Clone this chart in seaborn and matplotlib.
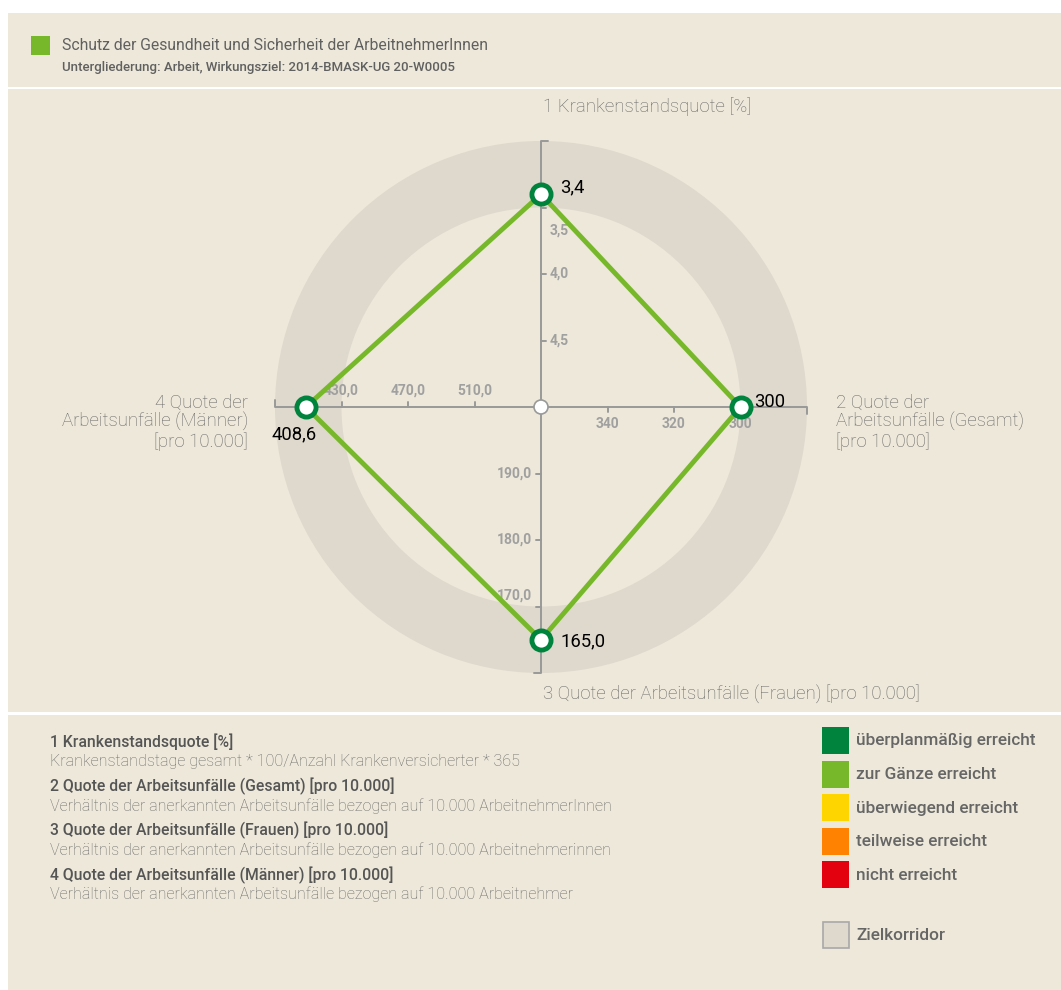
import numpy as np
import pandas as pd
import matplotlib
matplotlib.use("Agg")
import matplotlib.pyplot as plt
from matplotlib.patches import Rectangle, Wedge, Circle
import seaborn as sns

# ---- data ----
axis_names = ["1 Krankenstandsquote [%]",
              "2 Quote der\nArbeitsunfälle (Gesamt)\n[pro 10.000]",
              "3 Quote der Arbeitsunfälle (Frauen) [pro 10.000]",
              "4 Quote der\nArbeitsunfälle (Männer)\n[pro 10.000]"]
values = [3.4, 300, 165.0, 408.6]
value_labels = ["3,4", "300", "165,0", "408,6"]
axis_center = [5.0, 360, 200, 550]      # value at the centre of the chart
axis_outer = [3.0, 280, 160, 390]       # value at the outer end of each axis
tick_values = [[4.5, 4.0, 3.5], [340, 320, 300], [190, 180, 170], [510, 470, 430]]
tick_labels = [["4,5", "4,0", "3,5"], ["340", "320", "300"],
               ["190,0", "180,0", "170,0"], ["510,0", "470,0", "430,0"]]
corridor = (0.75, 1.0)                  # target corridor, as share of axis length

footnotes = [
    ("1 Krankenstandsquote [%]",
     "Krankenstandstage gesamt * 100/Anzahl Krankenversicherter * 365"),
    ("2 Quote der Arbeitsunfälle (Gesamt) [pro 10.000]",
     "Verhältnis der anerkannten Arbeitsunfälle bezogen auf 10.000 ArbeitnehmerInnen"),
    ("3 Quote der Arbeitsunfälle (Frauen) [pro 10.000]",
     "Verhältnis der anerkannten Arbeitsunfälle bezogen auf 10.000 Arbeitnehmerinnen"),
    ("4 Quote der Arbeitsunfälle (Männer) [pro 10.000]",
     "Verhältnis der anerkannten Arbeitsunfälle bezogen auf 10.000 Arbeitnehmer"),
]
legend_labels = ["überplanmäßig erreicht", "zur Gänze erreicht", "überwiegend erreicht",
                 "teilweise erreicht", "nicht erreicht"]
legend_colors = ["#00843D", "#76B82A", "#FFD500", "#FF8200", "#E3000F"]

# ---- style ----
sns.set_style("white")
plt.rcParams["font.family"] = ["Roboto", "DejaVu Sans"]

W, H = 1061, 990
BG = "#EDE8DA"
RING = "#DFD9CD"
GREEN = "#76B82A"
DARK = "#00843D"
AXIS = "#999999"
TICKTXT = "#A0A0A0"
TITLE = "#666666"


def fx(x):
    return x / W


def fy(y):
    return 1 - y / H


fig = plt.figure(figsize=(W / 100, H / 100), dpi=100, facecolor="white")

# background panels
for top, bottom in [(13, 87), (89, 712), (715, 990)]:
    fig.patches.append(Rectangle((fx(8), fy(bottom)), fx(W - 8), (bottom - top) / H,
                                 transform=fig.transFigure, facecolor=BG,
                                 edgecolor="none", zorder=-2))

# header
fig.patches.append(Rectangle((fx(31), fy(55)), 19 / W, 19 / H, transform=fig.transFigure,
                             facecolor=GREEN, edgecolor="none", zorder=1))
fig.text(fx(62), fy(46), "Schutz der Gesundheit und Sicherheit der ArbeitnehmerInnen",
         fontsize=11.3, color="#606060", va="center", ha="left")
fig.text(fx(62), fy(68), "Untergliederung: Arbeit, Wirkungsziel: 2014-BMASK-UG 20-W0005",
         fontsize=9.5, color="#606060", va="center", ha="left", fontweight="medium")

# ---- radar axes ----
R = 266.0
cx, cy = 541, 407
ax = fig.add_axes([fx(8), fy(712), fx(W - 8), (712 - 89) / H])
ax.set_zorder(2)
ax.set_xlim((8 - cx) / R, (W - cx) / R)
ax.set_ylim((cy - 712) / R, (cy - 89) / R)
ax.axis("off")
ax.patch.set_alpha(0)

dirs = np.array([[0, 1], [1, 0], [0, -1], [-1, 0]], dtype=float)
tick_dir = np.array([[d[1], -d[0]] for d in dirs])   # clockwise side


def norm(i, v):
    return (v - axis_center[i]) / (axis_outer[i] - axis_center[i])


ax.add_patch(Wedge((0, 0), corridor[1], 0, 360, width=corridor[1] - corridor[0],
                   facecolor=RING, edgecolor="none", zorder=1))

p = 1 / R  # one pixel in data units
label_offsets = {(0, 2): (0, -23), (2, 2): (0, 11)}
for i in range(4):
    d, t = dirs[i], tick_dir[i]
    ax.plot([0, d[0]], [0, d[1]], color=AXIS, lw=1.4, zorder=2, solid_capstyle="butt")
    # outer end tick
    ax.plot([d[0], d[0] + t[0] * 7 * p], [d[1], d[1] + t[1] * 7 * p],
            color=AXIS, lw=1.4, zorder=2)
    for j, tv in enumerate(tick_values[i]):
        r = norm(i, tv)
        bx, by = d * r
        ax.plot([bx, bx + t[0] * 5 * p], [by, by + t[1] * 5 * p], color=AXIS, lw=1.4, zorder=2)
        ox, oy = label_offsets.get((i, j), (0, 0))
        if i == 0:
            pos, ha, va = (bx + 9 * p, by), "left", "center"
        elif i == 1:
            pos, ha, va = (bx, by - 17 * p), "center", "center"
        elif i == 2:
            pos, ha, va = (bx - 9 * p, by), "right", "center"
        else:
            pos, ha, va = (bx, by + 16 * p), "center", "center"
        ax.text(pos[0] + ox * p, pos[1] + oy * p, tick_labels[i][j], ha=ha, va=va,
                fontsize=10, fontweight="bold", color=TICKTXT, zorder=3)

# axis titles
tkw = dict(fontsize=13.4, color=TITLE, fontweight="light", va="center")
ax.text(2 * p, (cy - 107) / R, axis_names[0], ha="left", **tkw)
ax.text((836 - cx) / R, (cy - 422) / R, axis_names[1], ha="left", linespacing=1.05, **tkw)
ax.text(2 * p, (cy - 694) / R, axis_names[2], ha="left", **tkw)
ax.text((248 - cx) / R, (cy - 422) / R, axis_names[3], ha="right", linespacing=1.05,
        multialignment="right", **tkw)

# centre circle
ax.add_patch(Circle((0, 0), 7 * p, facecolor="white", edgecolor=AXIS, lw=1.2, zorder=4))

# polygon
rs = [norm(i, v) for i, v in enumerate(values)]
pts = pd.DataFrame({"x": [dirs[i][0] * rs[i] for i in range(4)],
                    "y": [dirs[i][1] * rs[i] for i in range(4)]})
poly = pd.concat([pts, pts.iloc[[0]]], ignore_index=True)
sns.lineplot(data=poly, x="x", y="y", sort=False, estimator=None, color=GREEN,
             linewidth=3.5, ax=ax, zorder=5)
sns.scatterplot(data=pts, x="x", y="y", s=190, color="white", edgecolor=DARK,
                linewidth=3.5, ax=ax, zorder=6)
ax.axis("off")

val_off = [(19, 7, "left"), (14, 5, "left"), (19, -2, "left"), (-12, -27, "center")]
for i in range(4):
    ox, oy, ha = val_off[i]
    ax.text(pts.x[i] + ox * p, pts.y[i] + oy * p, value_labels[i], ha=ha, va="center",
            fontsize=13.3, color="black", zorder=7)

# ---- footnotes ----
for k, (head, desc) in enumerate(footnotes):
    y0 = 742 + k * 44.3
    fig.text(fx(50), fy(y0), head, fontsize=11.3, fontweight="medium", color="#555555",
             va="center", ha="left")
    fig.text(fx(50), fy(y0 + 19.5), desc, fontsize=11.6, fontweight="light", color="#6A6A6A",
             va="center", ha="left")

# ---- status legend ----
for k, (lab, col) in enumerate(zip(legend_labels, legend_colors)):
    y0 = 727 + k * 33.5
    fig.patches.append(Rectangle((fx(822), fy(y0 + 27)), 27 / W, 27 / H,
                                 transform=fig.transFigure, facecolor=col,
                                 edgecolor="none", zorder=1))
    fig.text(fx(856), fy(y0 + 14), lab, fontsize=12.4, fontweight="medium", color="#666666",
             va="center", ha="left")
fig.patches.append(Rectangle((fx(822.5), fy(947.5)), 26 / W, 26 / H,
                             transform=fig.transFigure, facecolor=RING,
                             edgecolor="#A8A8A8", lw=1.2, zorder=1))
fig.text(fx(856), fy(935), "Zielkorridor", fontsize=12.4, fontweight="medium",
         color="#666666", va="center", ha="left")

fig.savefig("out.png", dpi=100, facecolor="white")
